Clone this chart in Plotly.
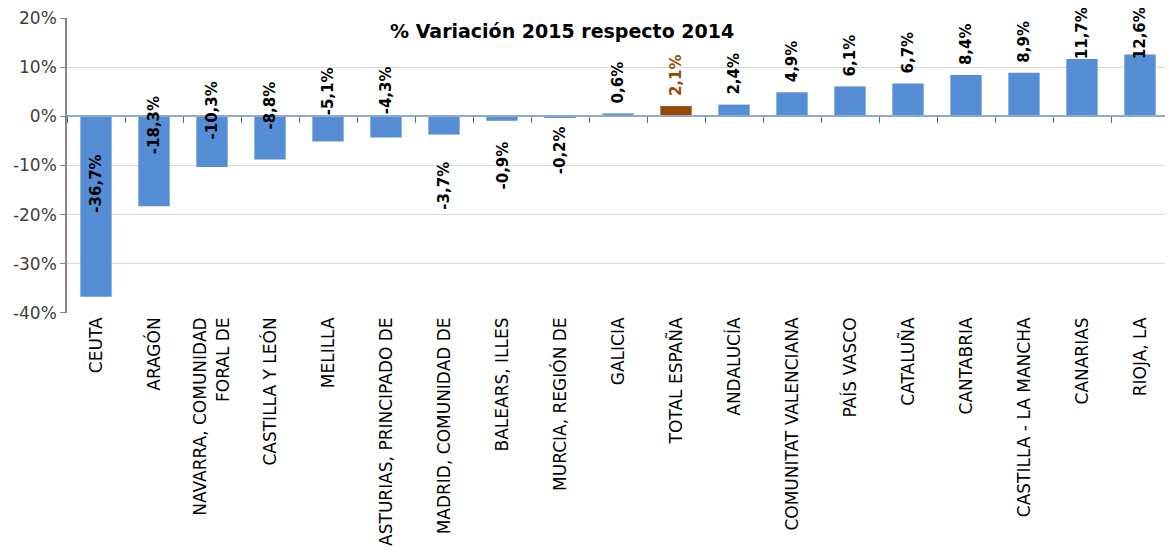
import plotly.graph_objects as go

categories = ["CEUTA", "ARAGÓN", "NAVARRA, COMUNIDAD<br>FORAL DE", "CASTILLA Y LEÓN", "MELILLA",
              "ASTURIAS, PRINCIPADO DE", "MADRID, COMUNIDAD DE", "BALEARS, ILLES", "MURCIA, REGIÓN DE",
              "GALICIA", "TOTAL ESPAÑA", "ANDALUCÍA", "COMUNITAT VALENCIANA", "PAÍS VASCO", "CATALUÑA",
              "CANTABRIA", "CASTILLA - LA MANCHA", "CANARIAS", "RIOJA, LA"]
values = [-36.7, -18.3, -10.3, -8.8, -5.1, -4.3, -3.7, -0.9, -0.2,
          0.6, 2.1, 2.4, 4.9, 6.1, 6.7, 8.4, 8.9, 11.7, 12.6]
labels = ["-36,7%", "-18,3%", "-10,3%", "-8,8%", "-5,1%", "-4,3%", "-3,7%", "-0,9%", "-0,2%",
          "0,6%", "2,1%", "2,4%", "4,9%", "6,1%", "6,7%", "8,4%", "8,9%", "11,7%", "12,6%"]
# label centres (in % units) for the negative bars, as placed in the original
neg_label_centre = [-13.7, -1.8, 1.2, 2.2, 5.1, 5.3, -14.1, -10.0, -6.9]
highlight = "TOTAL ESPAÑA"
y_ticks = [-40, -30, -20, -10, 0, 10, 20]
y_min, y_max = -40.03, 20.03
title_text = "% Variación 2015 respecto 2014"

BLUE = "#558ed5"
BROWN = "#984807"
FONT = "DejaVu Sans"

colors = [BROWN if c == highlight else BLUE for c in categories]

fig = go.Figure()
fig.add_trace(go.Bar(x=categories, y=values, marker=dict(color=colors, line=dict(width=0)),
                     hoverinfo="skip"))
# invisible helper trace so the category axis drawn at zero gets its boundary ticks
fig.add_trace(go.Scatter(x=categories, y=values, mode="none", xaxis="x2", hoverinfo="skip",
                         showlegend=False))

annotations = []
ni = 0
for c, v, lab in zip(categories, values, labels):
    tcol = BROWN if c == highlight else "black"
    if v < 0:
        annotations.append(dict(x=c, y=neg_label_centre[ni], text=lab, textangle=-90,
                                showarrow=False, xanchor="center", yanchor="middle",
                                font=dict(family=FONT, size=15, color=tcol, weight="bold")))
        ni += 1
    else:
        annotations.append(dict(x=c, y=min(v, 9.6), text=lab, textangle=-90,
                                showarrow=False, xanchor="center", yanchor="bottom", yshift=8,
                                font=dict(family=FONT, size=15, color=tcol, weight="bold")))

annotations.append(dict(x=0.449, xref="paper", y=0.956, yref="paper", text=title_text,
                        showarrow=False, xanchor="center", yanchor="middle",
                        font=dict(family=FONT, size=19, color="black", weight="bold")))

fig.update_layout(
    width=1165, height=547,
    margin=dict(l=59, r=4, t=10, b=242),
    paper_bgcolor="white", plot_bgcolor="white",
    showlegend=False,
    bargap=0.46,
    annotations=annotations,
    font=dict(family=FONT, color="#404040"),
    xaxis=dict(tickangle=-90, tickfont=dict(family=FONT, size=17, color="black"),
               showgrid=False, showline=False, ticks="", automargin=False),
    xaxis2=dict(overlaying="x", matches="x", anchor="free",
                position=(0 - y_min) / (y_max - y_min),
                showticklabels=False, showgrid=False, showline=True,
                linecolor="#8eaacc", linewidth=1.5,
                ticks="outside", tickson="boundaries", ticklen=6, tickcolor="#4a6e99",
                tickwidth=1.2),
    yaxis=dict(range=[y_min, y_max], tickvals=y_ticks, ticktext=[f"{t}%" for t in y_ticks],
               tickfont=dict(family=FONT, size=17, color="#404040"),
               showgrid=True, gridcolor="#d9d9d9", gridwidth=1,
               zeroline=False, ticklabeloverflow="allow",
               showline=True, linecolor="#868686", linewidth=1.5,
               ticks="outside", ticklen=5, tickcolor="#868686", automargin=False),
)

fig.write_html("out.html")
